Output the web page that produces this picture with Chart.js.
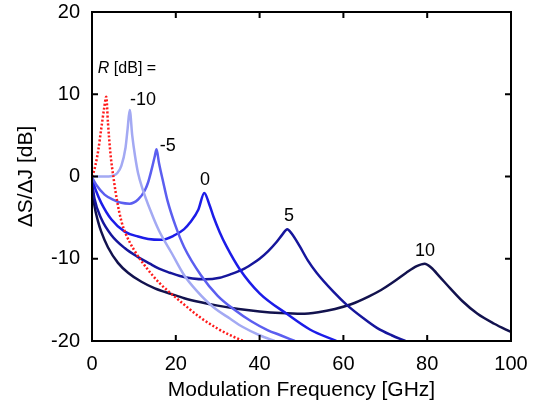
<!DOCTYPE html>
<html>
<head>
<meta charset="utf-8">
<script src="https://cdn.jsdelivr.net/npm/chart.js@4/dist/chart.umd.min.js"></script>
<style>
  body { margin: 0; background: #fff; }
  canvas { display: block; }
</style>
</head>
<body>
<canvas id="chart" width="538" height="407"></canvas>
<script>
// axis ticks
let xTicks = [0, 20, 40, 60, 80, 100];
let yTicks = [-20, -10, 0, 10, 20];

// red dotted curve
let redX = [0, 0.5, 1, 1.5, 2.2, 2.9, 3.4, 3.8, 4.4, 5.2, 6, 7, 8, 10, 13, 16, 19.5, 23, 26, 30, 33, 36.2];
let redY = [0, 0.7, 1.8, 3.2, 5.8, 8.3, 9.7, 6.6, 2.8, -0.4, -3, -5.4, -6.9, -8.9, -11.1, -12.9, -14.5, -16, -17.2, -18.5, -19.3, -20];

// R = -10 dB
let m10X = [0, 2, 4, 5, 6, 7, 8, 8.5, 9, 9.6, 10.3, 11, 12, 14, 16, 19, 22, 25, 29, 33, 36, 40, 43.6];
let m10Y = [0, 0, 0, 0.1, 0.4, 1.3, 3.5, 5.8, 8.1, 5, 2.4, 0.4, -1.4, -4.2, -6.6, -9.3, -12, -13.9, -15.9, -17.3, -18.3, -19.3, -20];

// R = -5 dB
let m5X = [0, 1, 3, 5, 7, 9, 11, 12.6, 13.4, 14.2, 15, 15.4, 16, 17, 18, 20, 22, 26, 30, 34, 38, 42, 45, 48.4];
let m5Y = [-0.1, -1, -2.2, -2.8, -3.2, -3.3, -2.8, -1.7, -0.7, 0.8, 2.5, 3.3, 1.6, -0.7, -2.9, -6.1, -8.6, -12, -14.5, -16.2, -17.6, -18.7, -19.3, -20];

// R = 0 dB
let r0X = [0, 1, 2.2, 4.6, 7.8, 11, 13.4, 16.5, 19.5, 22, 23.4, 25.4, 26.8, 28, 29, 30.5, 32.1, 35.3, 40, 46.5, 52, 58.3];
let r0Y = [-0.3, -1.8, -3.2, -5.2, -6.7, -7.3, -7.6, -7.7, -7.2, -6.4, -5.6, -4, -2, -3.4, -4.9, -6.8, -8.5, -11.3, -14.2, -16.7, -18.6, -20];

// R = 5 dB
let r5X = [0, 0.6, 2.2, 4.6, 7.8, 11, 13.8, 16, 18.6, 21, 24, 27, 30.5, 33, 36, 38, 40, 42, 44, 45.5, 46.6, 47.6, 49.6, 51.5, 53.6, 57.6, 60.8, 64.7, 68, 71.5, 74.8];
let r5Y = [-0.6, -2.7, -5.1, -7.1, -8.7, -9.8, -10.6, -11.2, -11.7, -12.1, -12.4, -12.5, -12.3, -11.9, -11.3, -10.7, -10, -9.1, -8, -7, -6.4, -6.9, -8.5, -10.2, -11.7, -14, -15.6, -17.2, -18.4, -19.3, -20];

// R = 10 dB
let r10X = [0, 0.6, 1.4, 2.2, 3.8, 6.2, 8.6, 11.8, 15, 19, 22, 26, 30, 35, 40, 45, 50, 54, 58, 62, 66, 69, 72, 75, 77.5, 79.4, 81, 83, 85.5, 88.5, 92, 96, 100];
let r10Y = [-1.2, -3.6, -5.4, -6.7, -8.6, -10.5, -11.7, -12.8, -13.6, -14.3, -14.8, -15.3, -15.7, -16.1, -16.4, -16.6, -16.7, -16.5, -16.1, -15.5, -14.6, -13.8, -12.8, -11.7, -10.9, -10.6, -11.1, -12.2, -13.6, -15.2, -16.7, -17.9, -18.9];

// curve labels
let labelText = ['-10', '-5', '0', '5', '10'];
let labelX = [12.2, 18.1, 27, 47, 79.5];
let labelY = [9.3, 3.7, -0.4, -4.8, -9.1];

function pts(xs, ys) {
    return xs.map((x, i) => ({ x: x, y: ys[i] }));
}

function line(xs, ys, color, dash) {
    return {
        data: pts(xs, ys),
        borderColor: color,
        borderWidth: 2.5,
        borderDash: dash || [],
        pointRadius: 0,
        fill: false,
        cubicInterpolationMode: 'monotone'
    };
}

let boxPlugin = {
    id: 'box',
    afterDraw(chart) {
        let ctx = chart.ctx;
        let a = chart.chartArea;
        let xs = chart.scales.x, ys = chart.scales.y;
        ctx.save();
        ctx.strokeStyle = '#000';
        ctx.lineWidth = 2;
        ctx.strokeRect(a.left, a.top, a.right - a.left, a.bottom - a.top);
        ctx.beginPath();
        xTicks.forEach(v => {
            let px = xs.getPixelForValue(v);
            ctx.moveTo(px, a.bottom); ctx.lineTo(px, a.bottom - 6);
            ctx.moveTo(px, a.top); ctx.lineTo(px, a.top + 6);
        });
        yTicks.forEach(v => {
            let py = ys.getPixelForValue(v);
            ctx.moveTo(a.left, py); ctx.lineTo(a.left + 6, py);
            ctx.moveTo(a.right, py); ctx.lineTo(a.right - 6, py);
        });
        ctx.stroke();

        // annotations
        ctx.fillStyle = '#000';
        ctx.textBaseline = 'middle';
        ctx.textAlign = 'left';
        let rx = xs.getPixelForValue(1.4), ry = ys.getPixelForValue(13.1);
        ctx.font = 'italic 16px "Liberation Sans", Arial, sans-serif';
        ctx.fillText('R', rx, ry);
        let w = ctx.measureText('R').width;
        ctx.font = '16px "Liberation Sans", Arial, sans-serif';
        ctx.fillText(' [dB] =', rx + w, ry);
        ctx.font = '18px "Liberation Sans", Arial, sans-serif';
        ctx.textAlign = 'center';
        labelText.forEach((t, i) => {
            ctx.fillText(t, xs.getPixelForValue(labelX[i]), ys.getPixelForValue(labelY[i]));
        });
        ctx.restore();
    }
};

let tickFont = { family: '"Liberation Sans", Arial, sans-serif', size: 20 };
let titleFont = { family: '"Liberation Sans", Arial, sans-serif', size: 21 };

new Chart(document.getElementById('chart'), {
    type: 'line',
    data: {
        datasets: [
            line(redX, redY, '#ff1a1a', [2, 2]),
            line(m10X, m10Y, '#a3a9f3'),
            line(m5X, m5Y, '#5b5ef0'),
            line(r0X, r0Y, '#1c1ce8'),
            line(r5X, r5Y, '#16169c'),
            line(r10X, r10Y, '#12124e')
        ]
    },
    options: {
        responsive: false,
        animation: false,
        layout: { padding: { left: 0, right: 27, top: 12, bottom: 0 } },
        plugins: { legend: { display: false }, tooltip: { enabled: false } },
        scales: {
            x: {
                type: 'linear',
                min: 0, max: 100,
                afterFit(s) { s.height = 66; s.paddingLeft = 0; s.paddingRight = 0; },
                afterBuildTicks(s) { s.ticks = xTicks.map(v => ({ value: v })); },
                grid: { display: false, drawTicks: false },
                border: { display: false },
                ticks: { color: '#000', font: tickFont, padding: 11, maxRotation: 0 },
                title: { display: true, text: 'Modulation Frequency [GHz]', color: '#000', font: titleFont, padding: { top: 5 } }
            },
            y: {
                min: -20, max: 20,
                afterFit(s) { s.width = 92; s.paddingTop = 0; s.paddingBottom = 0; },
                afterBuildTicks(s) { s.ticks = yTicks.map(v => ({ value: v })); },
                grid: { display: false, drawTicks: false },
                border: { display: false },
                ticks: { color: '#000', font: tickFont, padding: 12 },
                title: { display: true, text: 'ΔS/ΔJ [dB]', color: '#000', font: titleFont, padding: { top: 14 } }
            }
        }
    },
    plugins: [boxPlugin]
});
</script>
</body>
</html>
